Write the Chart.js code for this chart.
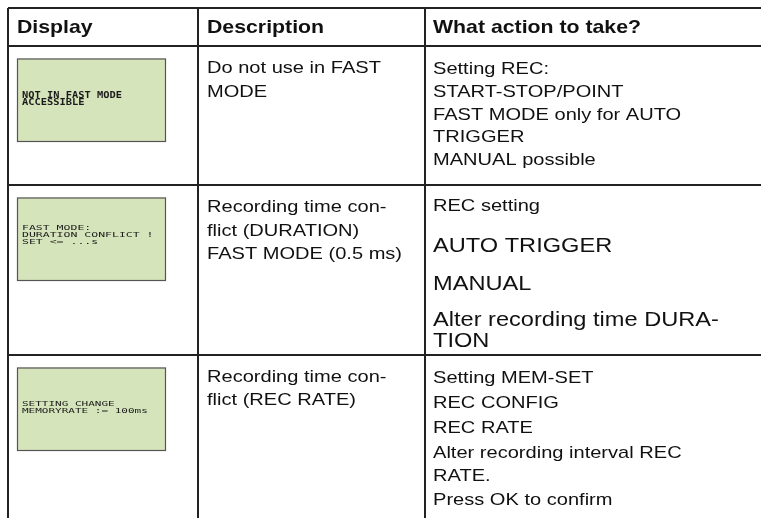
<!DOCTYPE html>
<html><head><meta charset="utf-8">
<script src="https://cdn.jsdelivr.net/npm/chart.js@4.4.1/dist/chart.umd.min.js"></script>
<style>html,body{margin:0;padding:0;background:#fff;overflow:hidden}</style>
</head><body>
<canvas id="c" width="761" height="518"></canvas>
<script>
// ---- content ----
const headers = ['Display', 'Description', 'What action to take?'];
const lcdTexts = [
  ['NOT IN FAST MODE', 'ACCESSIBLE'],
  ['FAST MODE:', 'DURATION CONFLICT !', 'SET <= ...s'],
  ['SETTING CHANGE', 'MEMORYRATE := 100ms']
];
const descriptions = [
  ['Do not use in FAST', 'MODE'],
  ['Recording time con-', 'flict (DURATION)', 'FAST MODE (0.5 ms)'],
  ['Recording time con-', 'flict (REC RATE)']
];
const actions = [
  ['Setting REC:', 'START-STOP/POINT', 'FAST MODE only for AUTO', 'TRIGGER', 'MANUAL possible'],
  ['REC setting', 'AUTO TRIGGER', 'MANUAL', 'Alter recording time DURA-', 'TION'],
  ['Setting MEM-SET', 'REC CONFIG', 'REC RATE', 'Alter recording interval REC', 'RATE.', 'Press OK to confirm']
];

// ---- layout (scale units) ----
const colEdges = [0, 190, 417];
const rowEdges = [0, 38, 177, 347];
const textX = [9, 199, 425];
const headerY = 18;
const descY = [[59, 83], [198, 221.5, 245], [368, 391]];
const actY = [[60, 82.8, 105.6, 128.4, 151.2], [197, 237, 275, 310.5, 332], [369, 394, 419, 443.5, 467, 491]];
const actSize = [[17,17,17,17,17],[17,20,20,20,20],[17,17,17,17,17,17]];
const lcdBox = { x0: 9, x1: 158, dy: 12.5, h: 83.5 };
const lcdStyle = [
  { size: 10.4, bold: true, sy: 0.9, y: [87, 93.5] },
  { size: 11.5, bold: false, sy: 0.6, y: [219.5, 226.5, 233.5] },
  { size: 11, bold: false, sy: 0.6, y: [396, 403] }
];
const STRETCH = 1.18;

function txt(ctx, s, x, yc, size, bold, stretch) {
  ctx.save();
  ctx.font = (bold ? 'bold ' : '') + size + 'px "Liberation Sans", Arial, sans-serif';
  ctx.fillStyle = '#111';
  ctx.textBaseline = 'alphabetic';
  ctx.translate(x, yc + 0.358 * size);
  ctx.scale(stretch, 1);
  ctx.fillText(s, 0, 0);
  ctx.restore();
}

const tablePlugin = {
  id: 'tableText',
  afterDraw(chart) {
    const ctx = chart.ctx, xs = chart.scales.x, ys = chart.scales.y;
    const X = v => xs.getPixelForValue(v), Y = v => ys.getPixelForValue(v);
    headers.forEach((h, i) => txt(ctx, h, X(textX[i]), Y(headerY), 18.5, true, 1.15));
    for (let r = 0; r < 3; r++) {
      const top = rowEdges[r + 1];
      const x0 = X(lcdBox.x0), x1 = X(lcdBox.x1), y0 = Y(top + lcdBox.dy), y1 = Y(top + lcdBox.dy + lcdBox.h);
      ctx.save();
      ctx.fillStyle = '#d6e4bb';
      ctx.fillRect(x0, y0, x1 - x0, y1 - y0);
      ctx.strokeStyle = '#555';
      ctx.lineWidth = 1.2;
      ctx.strokeRect(x0 + 0.5, y0 + 0.5, x1 - x0 - 1, y1 - y0 - 1);
      ctx.restore();
      const st = lcdStyle[r];
      lcdTexts[r].forEach((s, i) => {
        ctx.save();
        ctx.font = (st.bold ? 'bold ' : '') + st.size + 'px "DejaVu Sans Mono", monospace';
        ctx.fillStyle = '#1b1b1b';
        ctx.textBaseline = 'alphabetic';
        ctx.translate(X(14), Y(st.y[i]) + 0.365 * st.size * st.sy);
        ctx.scale(1, st.sy);
        ctx.fillText(s, 0, 0);
        ctx.restore();
      });
      descriptions[r].forEach((s, i) => txt(ctx, s, X(textX[1]), Y(descY[r][i]), 17, false, STRETCH));
      actions[r].forEach((s, i) => txt(ctx, s, X(textX[2]), Y(actY[r][i]), actSize[r][i], false, STRETCH));
    }
  }
};

const gridOpts = { color: '#222', lineWidth: 2, drawTicks: false };
new Chart(document.getElementById('c'), {
  type: 'scatter',
  data: { datasets: [] },
  options: {
    responsive: false,
    animation: false,
    layout: { padding: { left: 8, top: 8, right: 0, bottom: 0 } },
    plugins: { legend: { display: false }, tooltip: { enabled: false } },
    scales: {
      x: {
        type: 'linear', min: 0, max: 753, position: 'top',
        afterBuildTicks: s => { s.ticks = colEdges.map(v => ({ value: v })); },
        ticks: { display: false }, grid: gridOpts, border: { display: false }
      },
      y: {
        type: 'linear', min: 0, max: 510, reverse: true,
        afterBuildTicks: s => { s.ticks = rowEdges.map(v => ({ value: v })); },
        ticks: { display: false }, grid: gridOpts, border: { display: false }
      }
    }
  },
  plugins: [tablePlugin]
});
</script>
</body></html>
